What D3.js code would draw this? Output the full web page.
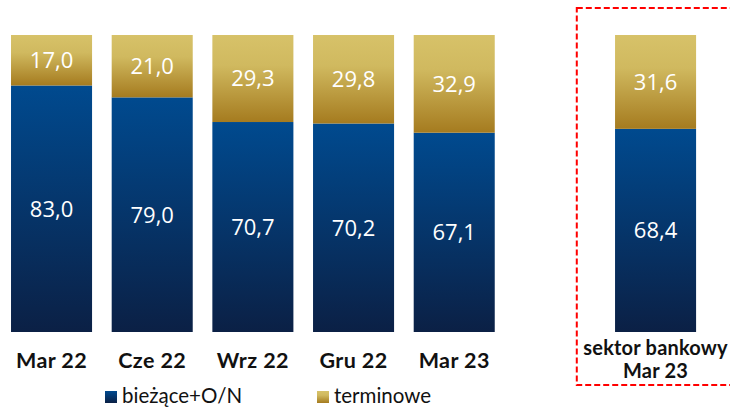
<!DOCTYPE html>
<html><head><meta charset="utf-8">
<script src="https://cdn.jsdelivr.net/npm/d3@7"></script>
<style>body{margin:0;background:#fff}svg{display:block}</style>
</head><body>
<script>
const categories = ["Mar 22","Cze 22","Wrz 22","Gru 22","Mar 23","", "sektor bankowy|Mar 23"];
const biezace = [83.0, 79.0, 70.7, 70.2, 67.1, null, 68.4];
const terminowe = [17.0, 21.0, 29.3, 29.8, 32.9, null, 31.6];
const seriesNames = ["bieżące+O/N", "terminowe"];

const W = 730, H = 408;
const svg = d3.select("body").append("svg").attr("width", W).attr("height", H);
const defs = svg.append("defs");
const gb = defs.append("linearGradient").attr("id","gBlue").attr("x1",0).attr("y1",0).attr("x2",0).attr("y2",1);
gb.append("stop").attr("offset","0%").attr("stop-color","#004a8f");
gb.append("stop").attr("offset","100%").attr("stop-color","#0b2045");
const gg = defs.append("linearGradient").attr("id","gGold").attr("x1",0).attr("y1",0).attr("x2",0).attr("y2",1);
gg.append("stop").attr("offset","0%").attr("stop-color","#d7c269");
gg.append("stop").attr("offset","35%").attr("stop-color","#d0b95f");
gg.append("stop").attr("offset","100%").attr("stop-color","#a57b1f");

const x = d3.scaleBand().domain(d3.range(categories.length)).range([1.2, 705.9]).paddingInner(0.195).paddingOuter(0.0975);
const y = d3.scaleLinear().domain([0, 100]).range([332, 35]);

const fmt = v => v.toFixed(1).replace(".", ",");
const idx = d3.range(categories.length).filter(i => biezace[i] !== null);

// dashed box
const bx = x(6) - x.step()*0.38;
svg.append("rect").attr("x", bx).attr("y", 8).attr("width", 760 - bx).attr("height", 377)
  .attr("fill","none").attr("stroke","#ff0000").attr("stroke-width",2).attr("stroke-dasharray","6,3");

const g = svg.append("g");
idx.forEach(i => {
  const x0 = x(i), bw = x.bandwidth();
  const b = biezace[i], t = terminowe[i];
  g.append("rect").attr("x", x0).attr("width", bw).attr("y", y(b)).attr("height", y(0)-y(b)).attr("fill","url(#gBlue)");
  g.append("rect").attr("x", x0).attr("width", bw).attr("y", y(b+t)).attr("height", y(b)-y(b+t)).attr("fill","url(#gGold)");
  g.append("text").attr("x", x0+bw/2).attr("y", (y(0)+y(b))/2).attr("dy","0.36em")
    .attr("text-anchor","middle").attr("fill","#fff").attr("font-family","Open Sans, sans-serif").attr("font-size",22)
    .text(fmt(b));
  g.append("text").attr("x", x0+bw/2).attr("y", (y(b)+y(b+t))/2).attr("dy","0.36em")
    .attr("text-anchor","middle").attr("fill","#fff").attr("font-family","Open Sans, sans-serif").attr("font-size",22)
    .text(fmt(t));
  const lines = categories[i].split("|");
  const lt = g.append("text").attr("text-anchor","middle").attr("font-family","Lato, sans-serif")
    .attr("font-weight","bold").attr("font-size",21.5).attr("letter-spacing",0.4).attr("fill","#111");
  if (lines.length === 1) {
    lt.append("tspan").attr("x", x0+bw/2).attr("y", 368).text(lines[0]);
  } else {
    lt.attr("font-size",20).attr("letter-spacing",0.2);
    lt.append("tspan").attr("x", x0+bw/2).attr("y", 355).text(lines[0]);
    lt.append("tspan").attr("x", x0+bw/2).attr("y", 377.5).text(lines[1]);
  }
});

// legend
const leg = svg.append("g");
const legItems = [{name: seriesNames[0], fill:"url(#gBlue)", x:105}, {name: seriesNames[1], fill:"url(#gGold)", x:317}];
legItems.forEach(d => {
  leg.append("rect").attr("x", d.x).attr("y", 391).attr("width", 12).attr("height", 12).attr("fill", d.fill);
  leg.append("text").attr("x", d.x+17).attr("y", 403).attr("font-family","Lato, sans-serif").attr("font-size",20.5)
    .attr("fill","#111").text(d.name);
});
</script>
</body></html>
